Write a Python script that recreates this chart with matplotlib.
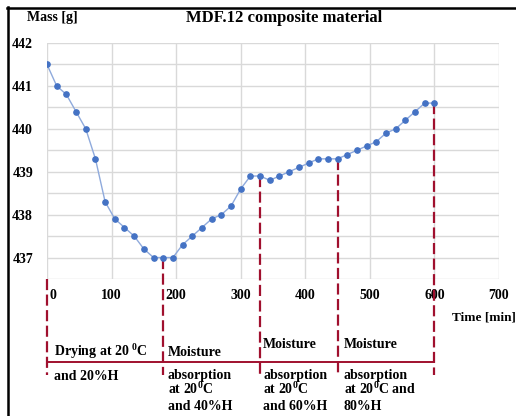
import matplotlib
matplotlib.use("Agg")
import matplotlib.pyplot as plt
from matplotlib.lines import Line2D
from matplotlib.ticker import MultipleLocator

plt.rcParams["font.family"] = ["Liberation Serif", "DejaVu Serif"]
plt.rcParams["font.weight"] = "bold"
plt.rcParams["mathtext.fontset"] = "custom"
plt.rcParams["mathtext.rm"] = "Liberation Serif:bold"
plt.rcParams["mathtext.it"] = "Liberation Serif:bold"
plt.rcParams["mathtext.bf"] = "Liberation Serif:bold"
plt.rcParams["mathtext.default"] = "bf"

# Mass of the MDF.12 sample, measured every 15 minutes
time_min = list(range(0, 601, 15))
mass_g = [441.5, 441.0, 440.8, 440.4, 440.0, 439.3, 438.3, 437.9, 437.7, 437.5,
          437.2, 437.0, 437.0, 437.0, 437.3, 437.5, 437.7, 437.9, 438.0, 438.2,
          438.6, 438.9, 438.9, 438.8, 438.9, 439.0, 439.1, 439.2, 439.3, 439.3,
          439.3, 439.4, 439.5, 439.6, 439.7, 439.9, 440.0, 440.2, 440.4, 440.6,
          440.6]

# Boundaries between conditioning phases (min)
phase_bounds = [0, 180, 330, 450, 600]
x_ticks = [0, 100, 200, 300, 400, 500, 600, 700]
y_ticks = [437, 438, 439, 440, 441, 442]

W, H = 516, 416
fig = plt.figure(figsize=(W / 100, H / 100), dpi=100)
ax = fig.add_axes([47 / W, 1 - 279 / H, (499 - 47) / W, (279 - 43) / H])

ax.plot(time_min, mass_g, color="#8FAADC", lw=1.0, marker="o", ms=3.8,
        mfc="#4472C4", mec="#4472C4", zorder=3)

ax.set_xlim(0, 700)
ax.set_ylim(436.5, 442)
ax.set_xticks(x_ticks)
ax.set_xticklabels([""] + [str(v) for v in x_ticks[1:]])
ax.set_yticks(y_ticks)
ax.set_yticklabels([str(v) for v in y_ticks])
ax.yaxis.set_minor_locator(MultipleLocator(0.5))
ax.grid(True, which="both", color="#D9D9D9", lw=1.0)
ax.set_axisbelow(True)
for s in ax.spines.values():
    s.set_visible(False)
ax.tick_params(axis="both", which="both", length=0, labelsize=10)
ax.tick_params(axis="y", pad=10)
ax.tick_params(axis="x", pad=7)
ax.annotate("0", xy=(0, 0), xycoords=ax.get_xaxis_transform(),
            xytext=(4.5, -7), textcoords="offset points",
            ha="center", va="top", fontsize=10, fontweight="bold")

# Phase boundaries reaching down into the annotation band
red = "#A0102E"
ylo, yhi = ax.get_ylim()
y_bottom = ylo - (375 - 279) / (279 - 43) * (yhi - ylo)
y_band = ylo - (362 - 279) / (279 - 43) * (yhi - ylo)
for t in phase_bounds:
    top = ylo if t == 0 else mass_g[time_min.index(t)]
    ax.plot([t, t], [top, y_bottom], color=red, lw=1.6,
            linestyle=(0, (5, 2)), clip_on=False, zorder=2)
ax.plot([phase_bounds[0], phase_bounds[-1]], [y_band, y_band], color=red,
        lw=1.4, clip_on=False, zorder=2)

# Titles and labels
fig.text(284 / W, 1 - 18 / H, "MDF.12 composite material", ha="center",
         va="center", fontsize=12, fontweight="bold")
fig.text(27 / W, 1 - 17 / H, "Mass [g]", ha="left", va="center",
         fontsize=10, fontweight="bold")
fig.text(452 / W, 1 - 320.5 / H, "Time [min]", ha="left", va="baseline",
         fontsize=9.5, fontweight="bold")

def label(x, y, s):
    fig.text(x / W, 1 - y / H, s, ha="left", va="baseline",
             fontsize=10, fontweight="bold")

label(54, 356, r"Drying at 20 $^{0}$C")
label(54, 380, "and 20%H")
label(168, 356, "Moisture")
label(168, 378.5, "absorption")
label(168, 394, r"at 20$^{0}$C")
label(168, 409.5, "and 40%H")
label(263, 348.5, "Moisture")
label(263, 378.5, "absorption")
label(263, 394, r"at 20$^{0}$C")
label(263, 409.5, "and 60%H")
label(344, 348.5, "Moisture")
label(344, 378.5, "absorption")
label(344, 394, r"at 20$^{0}$C and")
label(344, 409.5, "80%H")

# Frame along the top and left edges
fig.add_artist(Line2D([7 / W, 1], [1 - 8 / H, 1 - 8 / H], color="black",
                      lw=1.8, transform=fig.transFigure))
fig.add_artist(Line2D([8 / W, 8 / W], [0, 1 - 7 / H], color="black",
                      lw=1.8, transform=fig.transFigure))

fig.savefig("out.png", dpi=100, facecolor="white")
